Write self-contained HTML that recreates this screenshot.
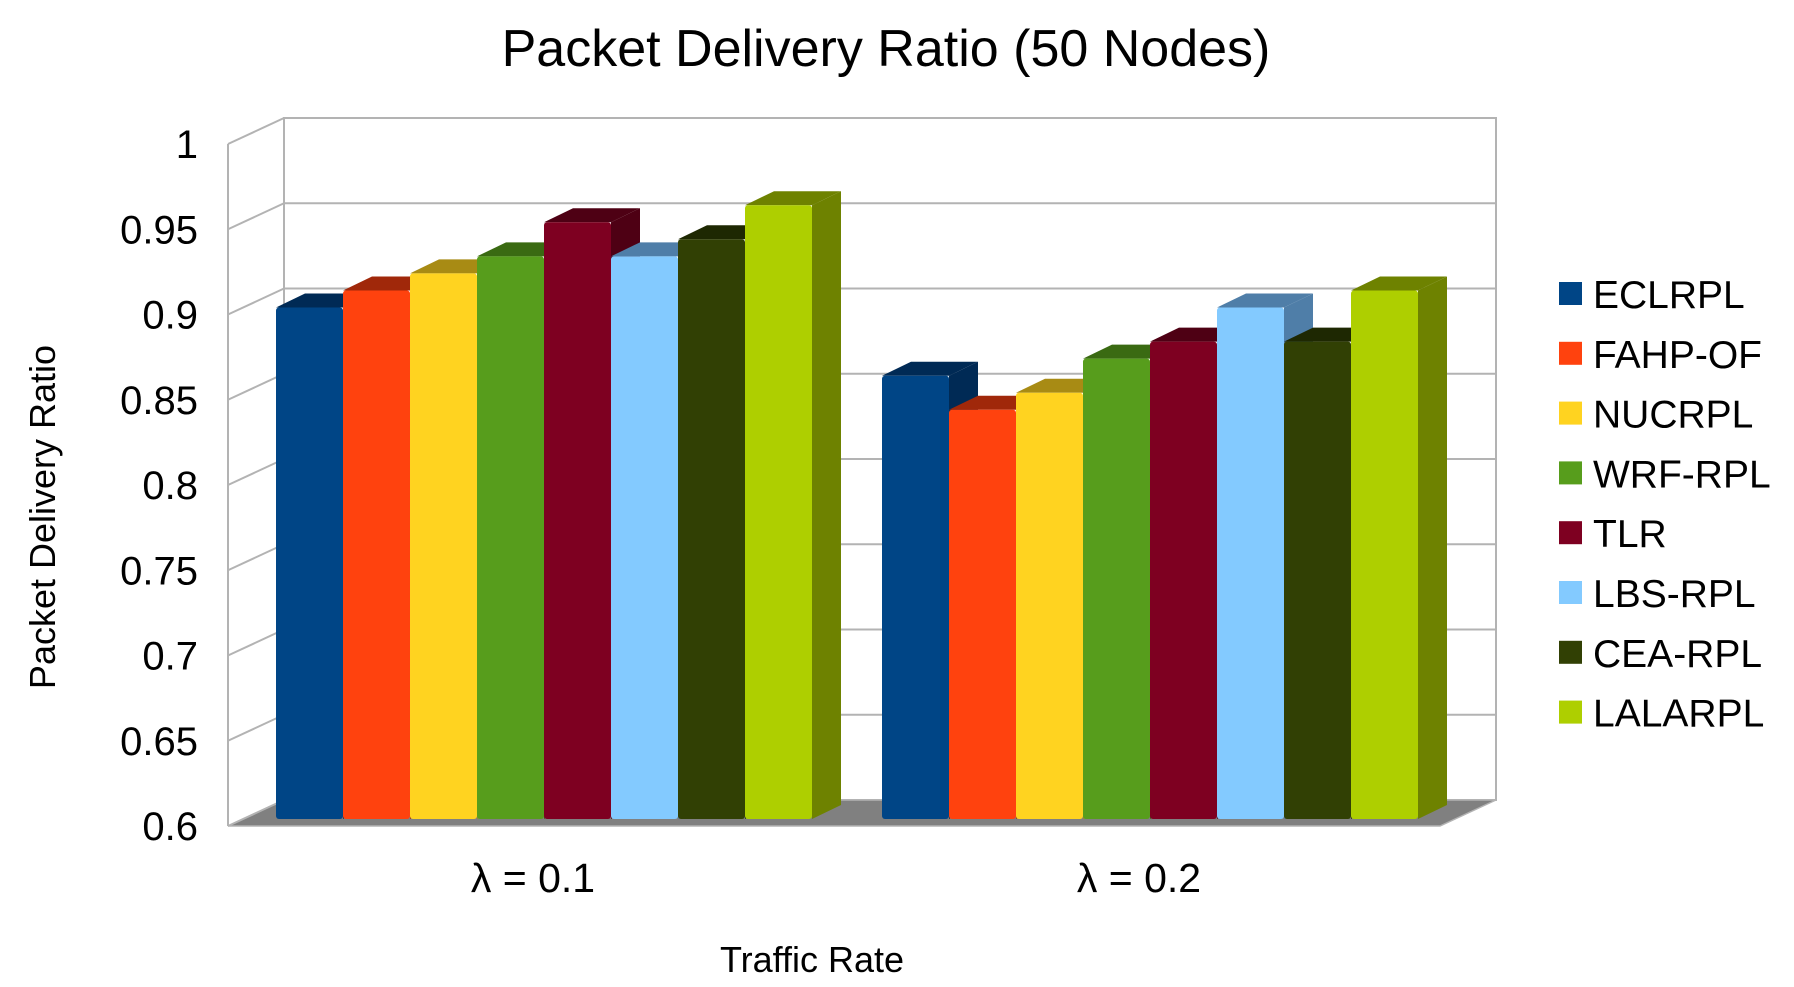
<!DOCTYPE html>
<html><head><meta charset="utf-8"><style>
html,body{margin:0;padding:0;background:#fff;}
svg{display:block;font-family:"Liberation Sans",sans-serif;}
</style></head><body>
<svg id="chart" width="1794" height="987" viewBox="0 0 1794 987">
<text x="886" y="66" font-size="52" text-anchor="middle" fill="#000">Packet Delivery Ratio (50 Nodes)</text>
<text transform="translate(55,517) rotate(-90)" font-size="36" text-anchor="middle" fill="#000">Packet Delivery Ratio</text>
<text x="812" y="972" font-size="36" text-anchor="middle" fill="#000">Traffic Rate</text>
<g id="grid"></g>
<g id="bars"></g>
<g id="axis"></g>
<g id="legend"></g>
</svg>
<script>
const categories = ["λ = 0.1", "λ = 0.2"];
const seriesNames = ["ECLRPL","FAHP-OF","NUCRPL","WRF-RPL","TLR","LBS-RPL","CEA-RPL","LALARPL"];
const ECLRPL = [0.90, 0.86];
const FAHP_OF = [0.91, 0.84];
const NUCRPL = [0.92, 0.85];
const WRF_RPL = [0.93, 0.87];
const TLR = [0.95, 0.88];
const LBS_RPL = [0.93, 0.90];
const CEA_RPL = [0.94, 0.88];
const LALARPL = [0.96, 0.91];
const yTicks = [0.6,0.65,0.7,0.75,0.8,0.85,0.9,0.95,1];
const yTickLabels = ["0.6","0.65","0.7","0.75","0.8","0.85","0.9","0.95","1"];
const seriesValues = [ECLRPL,FAHP_OF,NUCRPL,WRF_RPL,TLR,LBS_RPL,CEA_RPL,LALARPL];
const colors = ["#004586","#ff420e","#ffd320","#579d1c","#7e0021","#83caff","#314004","#aecf00"];
const sides = ["#002a55","#a0280a","#a88b14","#3a6a12","#4e0014","#4f7ea8","#1e2802","#6e8200"];

const NS="http://www.w3.org/2000/svg";
const X0=228, X1=1440, DX=56, DY=-26;
const Y0=826, Y1=144;
function yScale(v){return Y0-(v-0.6)/(0.4)*(Y0-Y1);}
const catW=(X1-X0)/categories.length;
function mk(tag,attrs,parent){const e=document.createElementNS(NS,tag);for(const k in attrs)e.setAttribute(k,attrs[k]);parent.appendChild(e);return e;}

const grid=document.getElementById('grid');
mk('rect',{x:X0+DX,y:Y1+DY,width:X1-X0,height:Y0-Y1,fill:'#fff',stroke:'#b3b3b3','stroke-width':2},grid);
const fl=mk('polygon',{points:`${X0},${Y0} ${X1},${Y0} ${X1+DX},${Y0+DY} ${X0+DX},${Y0+DY}`,fill:'#808080',stroke:'#b3b3b3','stroke-width':1.5},grid);

yTicks.forEach((t,i)=>{
  const y=yScale(t);
  if(i>0){
    const l=mk('line',{x1:X0+DX,y1:y+DY,x2:X1+DX,y2:y+DY,stroke:'#b3b3b3','stroke-width':2},grid);
    
  }
  mk('line',{x1:X0,y1:y,x2:X0+DX,y2:y+DY,stroke:'#b3b3b3','stroke-width':2},grid);
});
mk('line',{x1:X0,y1:Y1,x2:X0,y2:Y0,stroke:'#b3b3b3','stroke-width':2},grid);

const axis=document.getElementById('axis');
yTicks.forEach((t,i)=>{
  const tx=mk('text',{x:198,y:yScale(t)+14,'font-size':40,'text-anchor':'end',fill:'#000'},axis);
  
  
  tx.textContent=yTickLabels[i];
});
categories.forEach((c,i)=>{
  const tx=mk('text',{x:X0+catW*(i+0.5)+2,y:892,'font-size':41,'text-anchor':'middle',fill:'#000'},axis);
  
  
  tx.textContent=c;
});

const bars=document.getElementById('bars');
const bw=67, gOff=48, bdx=29, bdy=-14, base=819;
categories.forEach((c,ci)=>{
  seriesValues.forEach((vals,si)=>{
    const x=X0+catW*ci+gOff+si*bw;
    const y=yScale(vals[ci])-7;
    const g=mk('g',{},bars);
    
    
    mk('polygon',{points:`${x+bw},${y} ${x+bw+bdx},${y+bdy} ${x+bw+bdx},${base+bdy} ${x+bw},${base}`,fill:sides[si]},g);
    mk('polygon',{points:`${x},${y} ${x+bdx},${y+bdy} ${x+bw+bdx},${y+bdy} ${x+bw},${y}`,fill:sides[si]},g);
    mk('rect',{x:x,y:y,width:bw,height:base-y,fill:colors[si],rx:3},g);
  });
});

const leg=document.getElementById('legend');
seriesNames.forEach((n,i)=>{
  const y=294+i*59.8;
  const g=mk('g',{},leg);
  
  
  mk('rect',{x:1559,y:y-12,width:23,height:23,fill:colors[i]},g);
  const t=mk('text',{x:1593,y:y+14,'font-size':39,fill:'#000'},g);
  t.textContent=n;
});
</script>
</body></html>
